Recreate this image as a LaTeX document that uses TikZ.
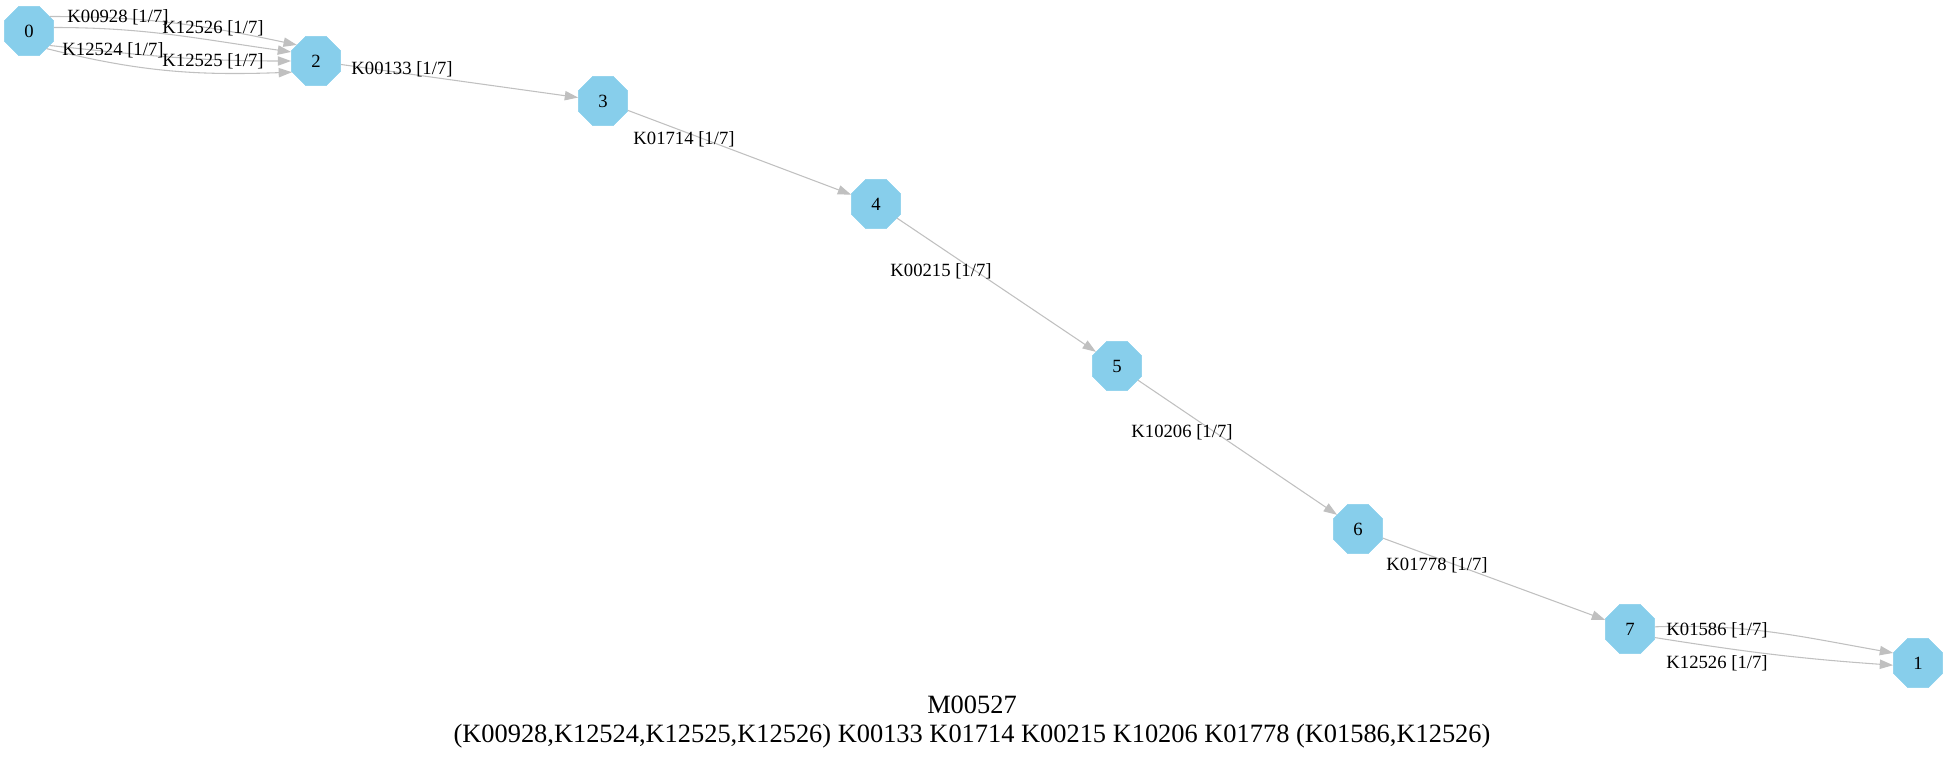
\documentclass[tikz,border=0pt]{standalone}
\usepackage{fontspec}
\setmainfont{Liberation Serif}
\usetikzlibrary{positioning, arrows.meta, shapes.geometric}
\definecolor{SkyB}{HTML}{87CEEB}
\definecolor{GrayE}{HTML}{C0C0C0}
\tikzset{
  oct/.style={regular polygon, regular polygon sides=8, minimum size=40pt, inner sep=0pt, fill=SkyB, draw=SkyB, font=\fontsize{14}{16}\selectfont},
  arr/.style={-{Triangle[length=10pt, width=7pt]}, draw=GrayE, line width=0.8pt},
  lbl/.style={inner sep=0pt, font=\fontsize{14}{16}\selectfont},
  ttl/.style={inner sep=0pt, align=center, font=\fontsize{19.8}{21.75}\selectfont}
}

\begin{document}
\begin{tikzpicture}[x=0.75pt, y=-0.75pt]
  \useasboundingbox (0,0) rectangle (1947,764);

  \node[oct] (n0) at (29,31) {0};
  \node[oct] (n2) at (316,61) {2};
  \node[oct] (n3) at (603,101) {3};
  \node[oct] (n4) at (876,204) {4};
  \node[oct] (n5) at (1117,366) {5};
  \node[oct] (n6) at (1358,529) {6};
  \node[oct] (n7) at (1630,629) {7};
  \node[oct] (n1) at (1918,663) {1};

  \draw[arr] (n0.35) to[out=0, in=168] (n2.140);
  \draw[arr] (n0.8) to[out=0, in=172] (n2.160);
  \draw[arr] (n0.-35) to[out=-6, in=180] (n2.180);
  \draw[arr] (n0.-45) to[out=-14, in=182] (n2.205);
  \draw[arr] (n2) -- (n3);
  \draw[arr] (n3) -- (n4);
  \draw[arr] (n4) -- (n5);
  \draw[arr] (n5) -- (n6);
  \draw[arr] (n6) -- (n7);
  \draw[arr] (n7.5) to[out=2, in=170] (n1.158);
  \draw[arr] (n7.-19) to[out=-9, in=176] (n1.185);

  \node[lbl] (l0928) at (118,17) {K00928 [1/7]};
  \node[lbl] (l2526a) at (213,28) {K12526 [1/7]};
  \node[lbl] (l2524) at (113,50) {K12524 [1/7]};
  \node[lbl] (l2525) at (213,61) {K12525 [1/7]};
  \node[lbl] (l0133) at (402,69) {K00133 [1/7]};
  \node[lbl] (l1714) at (684,139) {K01714 [1/7]};
  \node[lbl] (l0215) at (941,271) {K00215 [1/7]};
  \node[lbl] (l0206) at (1182,432) {K10206 [1/7]};
  \node[lbl] (l1778) at (1437,565) {K01778 [1/7]};
  \node[lbl] (l1586) at (1717,630) {K01586 [1/7]};
  \node[lbl] (l2526b) at (1717,663) {K12526 [1/7]};

  \node[ttl] (title) at (972,722) {M00527\\(K00928,K12524,K12525,K12526) K00133 K01714 K00215 K10206 K01778 (K01586,K12526)};
\end{tikzpicture}
\end{document}
